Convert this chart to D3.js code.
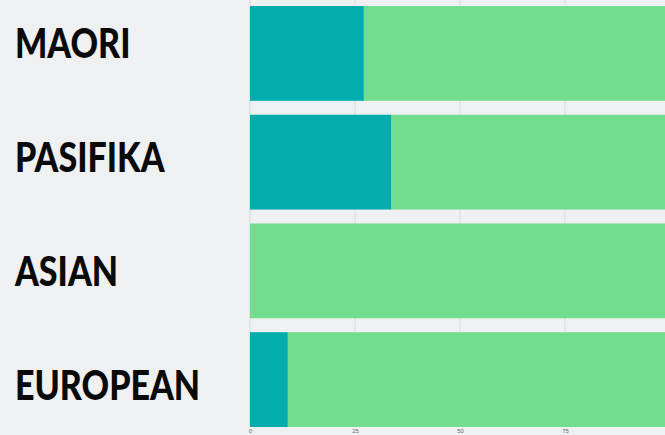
<!DOCTYPE html>
<html><head><meta charset="utf-8">
<script src="https://cdn.jsdelivr.net/npm/d3@7"></script>
<style>
html,body{margin:0;padding:0;background:#eff0f2;overflow:hidden}
svg{display:block}
</style></head>
<body>
<script>
const categories = ["MAORI", "PASIFIKA", "ASIAN", "EUROPEAN"];
const tealValues = [27.1, 33.6, 0, 9.0];
const greenValues = [72.9, 66.4, 100, 91.0];
const xTicks = [0, 25, 50, 75];

const W = 665, H = 435;
const svg = d3.select("body").append("svg").attr("width", W).attr("height", H);
svg.append("rect").attr("width", W).attr("height", H).attr("fill", "#eff0f2");

const x = d3.scaleLinear().domain([0, 100]).range([250, 670]);
const y = d3.scaleBand().domain(categories).range([6, 427]).paddingInner(0.128).paddingOuter(0);
const labelY = d3.scalePoint().domain(categories).range([43, 385]);

// gridlines
svg.append("g").selectAll("line").data(xTicks).join("line")
  .attr("x1", d => x(d)).attr("x2", d => x(d))
  .attr("y1", 0).attr("y2", 427)
  .attr("stroke", d => d === 0 ? "#d4d5d8" : "#dadbde").attr("stroke-width", 1);

const rows = categories.map((c, i) => ({c, t: tealValues[i], g: greenValues[i]}));
const g = svg.append("g");
g.selectAll(".green").data(rows).join("rect")
  .attr("x", d => x(d.t)).attr("y", d => y(d.c))
  .attr("width", d => x(d.t + d.g) - x(d.t)).attr("height", y.bandwidth())
  .attr("fill", "#72dd8e");
g.selectAll(".teal").data(rows.filter(d => d.t > 0)).join("rect")
  .attr("x", x(0)).attr("y", d => y(d.c))
  .attr("width", d => x(d.t) - x(0)).attr("height", y.bandwidth())
  .attr("fill", "#02adab");

// bottom axis
const ax = svg.append("g").attr("transform", "translate(0,427)")
  .call(d3.axisBottom(x).tickValues(xTicks).tickSize(0).tickPadding(2));
ax.select(".domain").remove();
ax.selectAll("text").attr("font-size", 6).attr("fill", "#666").attr("font-family", "Liberation Sans, Arial, sans-serif");

// labels
svg.append("g").attr("transform", "translate(15,0) scale(0.81,1)")
  .selectAll("text").data(categories).join("text")
  .attr("x", 0).attr("y", d => labelY(d))
  .attr("dy", "0.36em")
  .attr("font-family", "Lato, 'DejaVu Sans', sans-serif")
  .attr("font-weight", 900)
  .attr("font-size", 42)
  .attr("fill", "#0a0a0a")
  .text(d => d);
</script>
</body></html>
